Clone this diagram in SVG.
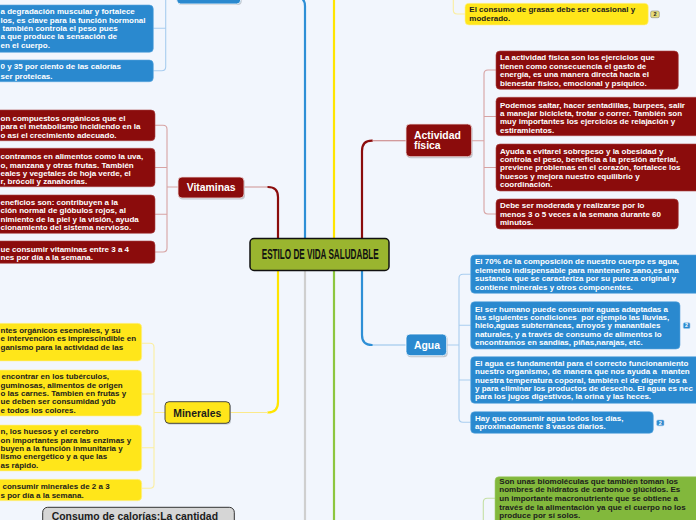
<svg xmlns="http://www.w3.org/2000/svg" width="696" height="520" viewBox="0 0 696 520">
<style>
.bg{fill:#f2f6fd}
.t{font-family:"Liberation Sans",Arial,sans-serif;font-weight:bold;font-size:8px}
.w{fill:#ffffff}
.d{fill:#1c1c1c}
.lbl{font-family:"Liberation Sans",Arial,sans-serif;font-weight:bold;font-size:10.4px}
.red{fill:#8b0c0c;stroke:#a94545;stroke-width:0.6}
.blue{fill:#2a89cf;stroke:#5aa6de;stroke-width:0.6}
.yel{fill:#ffe61a;stroke:#fff09a;stroke-width:0.6}
.grn{fill:#82b83c;stroke:#a6cf72;stroke-width:0.6}
.shadow{fill:#9aa0a8;opacity:0.55}
.main{fill:none;stroke-width:2.2;stroke-linecap:round}
.br{fill:none;stroke-width:1.1}
.badge{font-family:"Liberation Sans",Arial,sans-serif;font-weight:bold;font-size:5.5px;text-anchor:middle}
</style>
<rect class="bg" x="0" y="0" width="696" height="520"/>

<g id="connectors">
  <path class="main" stroke="#2e8fd6" d="M305,250 V6 Q305,-2 297,-4"/>
  <path class="main" stroke="#ffe500" d="M334,250 V-5"/>
  <path class="main" stroke="#8b0c0c" d="M362,250 V151 Q362,140.7 372,140.7"/>
  <path class="br" stroke="#c77b7b" stroke-width="1.4" d="M372,140.7 H406"/>
  <path class="main" stroke="#8b0c0c" d="M278,250 V197 Q278,187 268,187"/>
  <path class="br" stroke="#d29b9b" stroke-width="1.4" d="M268,187 H244"/>
  <path class="main" stroke="#ffe500" d="M278,260 V402 Q278,412.5 268,412.5"/>
  <path class="br" stroke="#fbe98a" stroke-width="1.4" d="M268,412.5 H230"/>
  <path class="main" stroke="#cfcfcf" d="M305,260 V525"/>
  <path class="main" stroke="#8dc63f" d="M334,260 V525"/>
  <path class="main" stroke="#2e8fd6" d="M362,260 V335 Q362,345 372,345"/>
  <path class="br" stroke="#8fc0ea" stroke-width="1.4" d="M372,345 H406"/>

  <path class="br" stroke="#a9cdef" d="M165.7,-5 V66.7 Q165.7,70.7 161.7,70.7 H153.3 M153.3,28.3 H165.7"/>
  <path class="br" stroke="#d7a3a3" d="M155,125.3 H163 Q167,125.3 167,129.3 V248 Q167,252 163,252 H155 M155,167.5 H167 M155,214.2 H167 M167,187 H178"/>
  <path class="br" stroke="#fbeea0" d="M141.7,343.3 H150 Q154,343.3 154,347.3 V484.3 Q154,488.3 150,488.3 H141.7 M141.7,394 H154 M141.7,447.7 H154 M154,412.5 H165"/>
  <path class="br" stroke="#d7a3a3" d="M496,70 H488 Q484,70 484,74 V210 Q484,214 488,214 H496 M484,116.5 H496 M484,167.5 H496 M471.7,140.7 H484"/>
  <path class="br" stroke="#a9cdef" d="M470.7,274.3 H463 Q459,274.3 459,278.3 V418.3 Q459,422.3 463,422.3 H470.7 M459,325.3 H470.7 M459,380 H470.7 M446.7,345 H459"/>
  <path class="br" stroke="#fbeea0" d="M453.3,-5 V10 Q453.3,14 457.3,14 H465"/>
  <path class="br" stroke="#c5e0a5" d="M495,498.3 H487.3 Q483.3,498.3 483.3,502.3 V525"/>
</g>

<g id="center">
  <rect x="250" y="238.5" width="139" height="32" rx="4" fill="#9ab52f" stroke="#111" stroke-width="1.5"/>
  <text x="261.7" y="259" font-family="Liberation Sans, Arial, sans-serif" font-weight="bold" font-size="15" textLength="117" lengthAdjust="spacingAndGlyphs" fill="#111">ESTILO DE VIDA SALUDABLE</text>
</g>

<g id="proteinas">
  <rect class="shadow" x="177.7" y="-19" width="64" height="24" rx="4"/>
  <rect x="176.7" y="-20" width="64" height="24" rx="4" fill="#2a89cf" stroke="#ffffff" stroke-width="0.8"/>
</g>
<g id="prot1">
  <rect class="blue" x="-10" y="5" width="163.3" height="47.3" rx="4"/>
  <text class="t w" x="0.5" y="14.2">a degradación muscular y fortalece</text>
  <text class="t w" x="0.5" y="22.5">los, es clave para la función hormonal</text>
  <text class="t w" x="2.5" y="30.8">también controla el peso pues</text>
  <text class="t w" x="0.5" y="39.2">a que produce la sensación de</text>
  <text class="t w" x="0.5" y="47.5">en el cuerpo.</text>
</g>
<g id="prot2">
  <rect class="blue" x="-10" y="60" width="163.3" height="21.7" rx="4"/>
  <text class="t w" x="0.5" y="69.3">0 y 35 por ciento de las calorías</text>
  <text class="t w" x="0.5" y="78.6">ser proteicas.</text>
</g>

<g id="vitaminas">
  <rect class="shadow" x="179" y="178.5" width="66" height="21" rx="4"/>
  <rect x="178" y="177" width="66" height="21" rx="4" fill="#8b0c0c" stroke="#f0dede" stroke-width="0.8"/>
  <text class="lbl w" x="186.7" y="190.7">Vitaminas</text>
</g>
<g id="vit1">
  <rect class="red" x="-10" y="110" width="165" height="30.7" rx="4"/>
  <text class="t w" x="0.5" y="121">on compuestos orgánicos que el</text>
  <text class="t w" x="0.5" y="129.3">para el metabolismo incidiendo en la</text>
  <text class="t w" x="0.5" y="137.6">o así el crecimiento adecuado.</text>
</g>
<g id="vit2">
  <rect class="red" x="-10" y="148.3" width="165" height="38.4" rx="4"/>
  <text class="t w" x="0.5" y="159.3">contramos en alimentos como la uva,</text>
  <text class="t w" x="0.5" y="167.6">o, manzana y otras frutas. También</text>
  <text class="t w" x="0.5" y="175.9">eales y vegetales de hoja verde, el</text>
  <text class="t w" x="0.5" y="184.2">r, brócoli y zanahorias.</text>
</g>
<g id="vit3">
  <rect class="red" x="-10" y="195" width="165" height="38.3" rx="4"/>
  <text class="t w" x="0.5" y="205">eneficios son: contribuyen a la</text>
  <text class="t w" x="0.5" y="213.4">ción normal de glóbulos rojos, al</text>
  <text class="t w" x="0.5" y="221.8">nimiento de la piel y la visión, ayuda</text>
  <text class="t w" x="0.5" y="230.2">cionamiento del sistema nervioso.</text>
</g>
<g id="vit4">
  <rect class="red" x="-10" y="241" width="165" height="22.3" rx="4"/>
  <text class="t w" x="0.5" y="251.6">ue consumir vitaminas entre 3 a 4</text>
  <text class="t w" x="0.5" y="260">nes por día a la semana.</text>
</g>

<g id="minerales">
  <rect class="shadow" x="166" y="403" width="65" height="21.6" rx="4"/>
  <rect x="165" y="401.7" width="65" height="21.6" rx="4" fill="#ffe61a" stroke="#3a3a3a" stroke-width="0.9"/>
  <text class="lbl d" x="173.3" y="416.7">Minerales</text>
</g>
<g id="min1">
  <rect class="yel" x="-10" y="323.3" width="151.7" height="37.7" rx="4"/>
  <text class="t d" x="0.5" y="332.6">ntes orgánicos esenciales, y su</text>
  <text class="t d" x="0.5" y="341.2">e intervención es imprescindible en</text>
  <text class="t d" x="0.5" y="349.8">ganismo para la actividad de las</text>
</g>
<g id="min2">
  <rect class="yel" x="-10" y="370" width="151.7" height="46" rx="4"/>
  <text class="t d" x="1.5" y="379.3">encontrar en los tubérculos,</text>
  <text class="t d" x="0.5" y="387.6">guminosas, alimentos de origen</text>
  <text class="t d" x="0.5" y="395.9">o las carnes. Tambien en frutas y</text>
  <text class="t d" x="0.5" y="404.2">ue deben ser consumidad ydb</text>
  <text class="t d" x="0.5" y="412.5">e todos los colores.</text>
</g>
<g id="min3">
  <rect class="yel" x="-10" y="425" width="151.7" height="46" rx="4"/>
  <text class="t d" x="0.5" y="434.3">n, los huesos y el cerebro</text>
  <text class="t d" x="0.5" y="442.6">on importantes para las enzimas y</text>
  <text class="t d" x="0.5" y="450.9">buyen a la función inmunitaria y</text>
  <text class="t d" x="0.5" y="459.2">lismo energético y a que las</text>
  <text class="t d" x="0.5" y="467.5">as rápido.</text>
</g>
<g id="min4">
  <rect class="yel" x="-10" y="479.3" width="151.7" height="21.4" rx="4"/>
  <text class="t d" x="2.5" y="489.3">consumir minerales de 2 a 3</text>
  <text class="t d" x="0.5" y="497.6">s por día a la semana.</text>
</g>

<g id="calorias">
  <rect x="42.7" y="507.3" width="191.6" height="30" rx="5" fill="#d6d6d6" stroke="#333" stroke-width="1"/>
  <text class="lbl d" x="51.7" y="519.5">Consumo de calorías:La cantidad</text>
</g>

<g id="grasas">
  <rect class="yel" x="465" y="3.3" width="183.3" height="21.7" rx="4"/>
  <text class="t d" x="469.3" y="11.6">El consumo de grasas debe ser ocasional y</text>
  <text class="t d" x="469.3" y="20.9">moderado.</text>
  <rect x="650.7" y="11" width="8.6" height="6.7" rx="1.5" fill="#e8dc7a" stroke="#888" stroke-width="0.6"/>
  <text class="badge d" x="655" y="16.4">2</text>
</g>

<g id="actividad">
  <rect class="shadow" x="407" y="125.5" width="65.7" height="32.7" rx="4"/>
  <rect x="406" y="124" width="65.7" height="32.7" rx="4" fill="#8b0c0c" stroke="#f0dede" stroke-width="0.8"/>
  <text class="lbl w" x="414" y="139">Actividad</text>
  <text class="lbl w" x="414" y="149">física</text>
</g>
<g id="act1">
  <rect class="red" x="496" y="51" width="182.3" height="38.3" rx="4"/>
  <text class="t w" x="500" y="60.3">La actividad física son los ejercicios que</text>
  <text class="t w" x="500" y="68.8">tienen como consecuencia el gasto de</text>
  <text class="t w" x="500" y="77.3">energía, es una manera directa hacia el</text>
  <text class="t w" x="500" y="85.8">bienestar físico, emocional y psíquico.</text>
</g>
<g id="act2">
  <rect class="red" x="496" y="97.3" width="210" height="38.4" rx="4"/>
  <text class="t w" x="500" y="107.6">Podemos saltar, hacer sentadillas, burpees, salir</text>
  <text class="t w" x="500" y="116">a manejar bicicleta, trotar o correr. También son</text>
  <text class="t w" x="500" y="124.4">muy importantes los ejercicios de relajación y</text>
  <text class="t w" x="500" y="132.5">estiramientos.</text>
</g>
<g id="act3">
  <rect class="red" x="496" y="144" width="210" height="47" rx="4"/>
  <text class="t w" x="500" y="153.6">Ayuda a evitarel sobrepeso y la obesidad y</text>
  <text class="t w" x="500" y="161.9">controla el peso, beneficia a la presión arterial,</text>
  <text class="t w" x="500" y="170.3">previene problemas en el corazón, fortalece los</text>
  <text class="t w" x="500" y="178.6">huesos y mejora nuestro equilibrio y</text>
  <text class="t w" x="500" y="186.9">coordinación.</text>
</g>
<g id="act4">
  <rect class="red" x="496" y="199" width="182.3" height="30" rx="4"/>
  <text class="t w" x="500" y="208.3">Debe ser moderada y realizarse por lo</text>
  <text class="t w" x="500" y="216.9">menos 3 o 5 veces a la semana durante 60</text>
  <text class="t w" x="500" y="225.3">minutos.</text>
</g>

<g id="agua">
  <rect class="shadow" x="407" y="335.5" width="40.7" height="21.7" rx="4"/>
  <rect x="406" y="334" width="40.7" height="21.7" rx="4" fill="#2a89cf" stroke="#ffffff" stroke-width="0.8"/>
  <text class="lbl w" x="414" y="348.5">Agua</text>
</g>
<g id="agua1">
  <rect class="blue" x="470.7" y="255" width="240" height="38.3" rx="4"/>
  <text class="t w" x="475" y="264.3">El 70% de la composición de nuestro cuerpo es agua,</text>
  <text class="t w" x="475" y="272.7">elemento indispensable para mantenerlo sano,es una</text>
  <text class="t w" x="475" y="281.1">sustancia que se caracteriza por su pureza original y</text>
  <text class="t w" x="475" y="289.5">contiene minerales y otros componentes.</text>
</g>
<g id="agua2">
  <rect class="blue" x="470.7" y="301.7" width="209.3" height="47.3" rx="4"/>
  <text class="t w" x="475" y="311.6">El ser humano puede consumir aguas adaptadas a</text>
  <text class="t w" x="475" y="319.9" xml:space="preserve">las siguientes condiciones  por ejemplo las lluvias,</text>
  <text class="t w" x="475" y="328.2">hielo,aguas subterráneas, arroyos y manantiales</text>
  <text class="t w" x="475" y="336.5">naturales, y a través de consumo de alimentos lo</text>
  <text class="t w" x="475" y="344.8">encontramos en sandías, piñas,narajas, etc.</text>
  <rect x="683.3" y="322.7" width="6.7" height="5.8" rx="1.3" fill="#2a89cf" stroke="#9cc6ea" stroke-width="0.6"/>
  <text class="badge w" x="686.6" y="327.4">2</text>
</g>
<g id="agua3">
  <rect class="blue" x="470.7" y="356.7" width="240" height="46.6" rx="4"/>
  <text class="t w" x="475" y="365.9">El agua es fundamental para el correcto funcionamiento</text>
  <text class="t w" x="475" y="374.2" xml:space="preserve">nuestro organismo, de manera que nos ayuda a  manten</text>
  <text class="t w" x="475" y="382.5">nuestra temperatura coporal, también el de digerir los a</text>
  <text class="t w" x="475" y="390.8">y para eliminar los productos de desecho. El agua es nec</text>
  <text class="t w" x="475" y="399.1">para los jugos digestivos, la orina y las heces.</text>
</g>
<g id="agua4">
  <rect class="blue" x="470.7" y="411.7" width="182.6" height="21.6" rx="4"/>
  <text class="t w" x="475" y="420.9">Hay que consumir agua todos los días,</text>
  <text class="t w" x="475" y="429.3">aproximadamente 8 vasos diarios.</text>
  <rect x="656.7" y="420" width="7.3" height="5.8" rx="1.3" fill="#2a89cf" stroke="#9cc6ea" stroke-width="0.6"/>
  <text class="badge w" x="660.3" y="424.7">2</text>
</g>

<g id="carbohidratos">
  <rect class="grn" x="495" y="476.7" width="215" height="55" rx="4"/>
  <text class="t d" x="499.3" y="483.6">Son unas biomoléculas que también toman los</text>
  <text class="t d" x="499.3" y="492.3">nombres de hidratos de carbono o glúcidos. Es</text>
  <text class="t d" x="499.3" y="501">un importante macronutriente que se obtiene a</text>
  <text class="t d" x="499.3" y="509.6">través de la alimentación ya que el cuerpo no los</text>
  <text class="t d" x="499.3" y="518.3">produce por sí solos.</text>
</g>
</svg>
